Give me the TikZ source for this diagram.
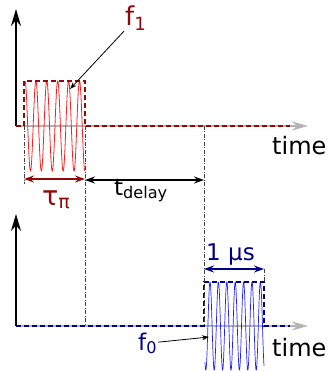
\documentclass[tikz,border=0pt]{standalone}
\usepackage{fontspec}
\setmainfont{DejaVu Sans}
\usetikzlibrary{
	arrows.meta,
	positioning,
	calc
}
\definecolor{pulsedark}{RGB}{140,10,10}
\definecolor{pulsered}{RGB}{255,30,30}
\definecolor{probenavy}{RGB}{0,0,130}
\definecolor{probeblue}{RGB}{30,30,255}
\definecolor{axisgray}{RGB}{180,180,180}

\begin{document}
\begin{tikzpicture}[
		x=1pt, y=-1pt,
		axis/.style={line width=2pt, -{Stealth[length=17pt, width=10pt]}},
		timeline/.style={line width=2.4pt, axisgray, -{Stealth[length=16pt, width=9pt]}},
		envelope/.style={line width=1.9pt, dash pattern=on 5pt off 3pt},
		guide/.style={line width=0.7pt, black!75, dash pattern=on 4pt off 1.5pt on 1pt off 1.5pt},
		span/.style={line width=1.4pt, {Stealth[length=10pt, width=7pt]}-{Stealth[length=10pt, width=7pt]}},
		ptr/.style={line width=0.8pt, -{Stealth[length=7pt, width=5pt]}},
		lbl/.style={inner sep=1pt, anchor=base west}
		]
		\useasboundingbox (0,0) rectangle (329,371);
		
		% =========================
		% Axes (pump above, probe below)
		% =========================
		\coordinate (o1) at (16,126);
		\coordinate (o2) at (16,326);
		\draw[timeline] (o1) -- (308,126) coordinate (end1);
		\draw[timeline] (o2) -- (308,326) coordinate (end2);
		\draw[axis] (o1) -- (16,9) coordinate (top1);
		\draw[axis] (o2) -- (16,214) coordinate (top2);
		
		% =========================
		% Pump pulse f1
		% =========================
		\coordinate (pl) at (24,126);
		\coordinate (pr) at (85,126);
		\draw[pulsered, line width=0.8pt] plot[domain=25:85, samples=300] (\x, {126-45*cos((\x-25)*33.03)});
		\draw[envelope, pulsedark] (o1) -- (pl) -- (24,81) -- (85,81) -- (pr) -- (290,126);
		
		% =========================
		% Probe pulse f0
		% =========================
		\coordinate (ql) at (204,326);
		\coordinate (qr) at (264,326);
		\draw[probeblue, line width=0.7pt] plot[domain=205:264, samples=400] (\x, {326-44*cos((\x-210)*42.86)});
		\draw[envelope, probenavy] (o2) -- (ql) -- (204,282) -- (264,282) -- (qr) -- (290,326);
		
		% =========================
		% Guide lines and spans
		% =========================
		\coordinate (tauL) at (24,179);
		\coordinate (tauR) at (85,179);
		\coordinate (delR) at (204,180);
		\coordinate (usL) at (204,269);
		\coordinate (usR) at (264,269);
		\draw[guide] (pl) -- (24,184);
		\draw[guide] (pr) -- (85,326);
		\draw[guide] (204,126) -- (ql);
		\draw[guide] (usR) -- (264,282);
		
		\draw[span, pulsedark] (tauL) -- (tauR);
		\draw[span, black] (85,180) -- (delR);
		\draw[span, probenavy] (usL) -- (usR);
		
		% =========================
		% Labels
		% =========================
		\node[lbl, font=\fontsize{24}{28}\selectfont] (time1) at (271,155) {time};
		\node[lbl, font=\fontsize{24}{28}\selectfont] (time2) at (271,356) {time};
		\node[lbl, font=\fontsize{26}{30}\selectfont, text=pulsedark] (f1) at (124,26) {f\textsubscript{1}};
		\node[lbl, font=\fontsize{27}{30}\selectfont, text=pulsedark] (tau) at (41,205) {τ\textsubscript{π}};
		\node[lbl, font=\fontsize{23}{27}\selectfont] (tdelay) at (113,195) {t\textsubscript{delay}};
		\node[lbl, font=\fontsize{23}{27}\selectfont, text=probenavy] (onemus) at (205,260) {1 µs};
		\node[lbl, font=\fontsize{23}{27}\selectfont, text=probenavy] (f0) at (137,350) {f\textsubscript{0}};
		
		% pointers to the carriers
		\coordinate (f1tip) at (70,89);
		\coordinate (f0tip) at (209,337);
		\draw[ptr] (f1) -- (f1tip);
		\draw[ptr] (f0) -- (f0tip);
		
	\end{tikzpicture}
\end{document}
